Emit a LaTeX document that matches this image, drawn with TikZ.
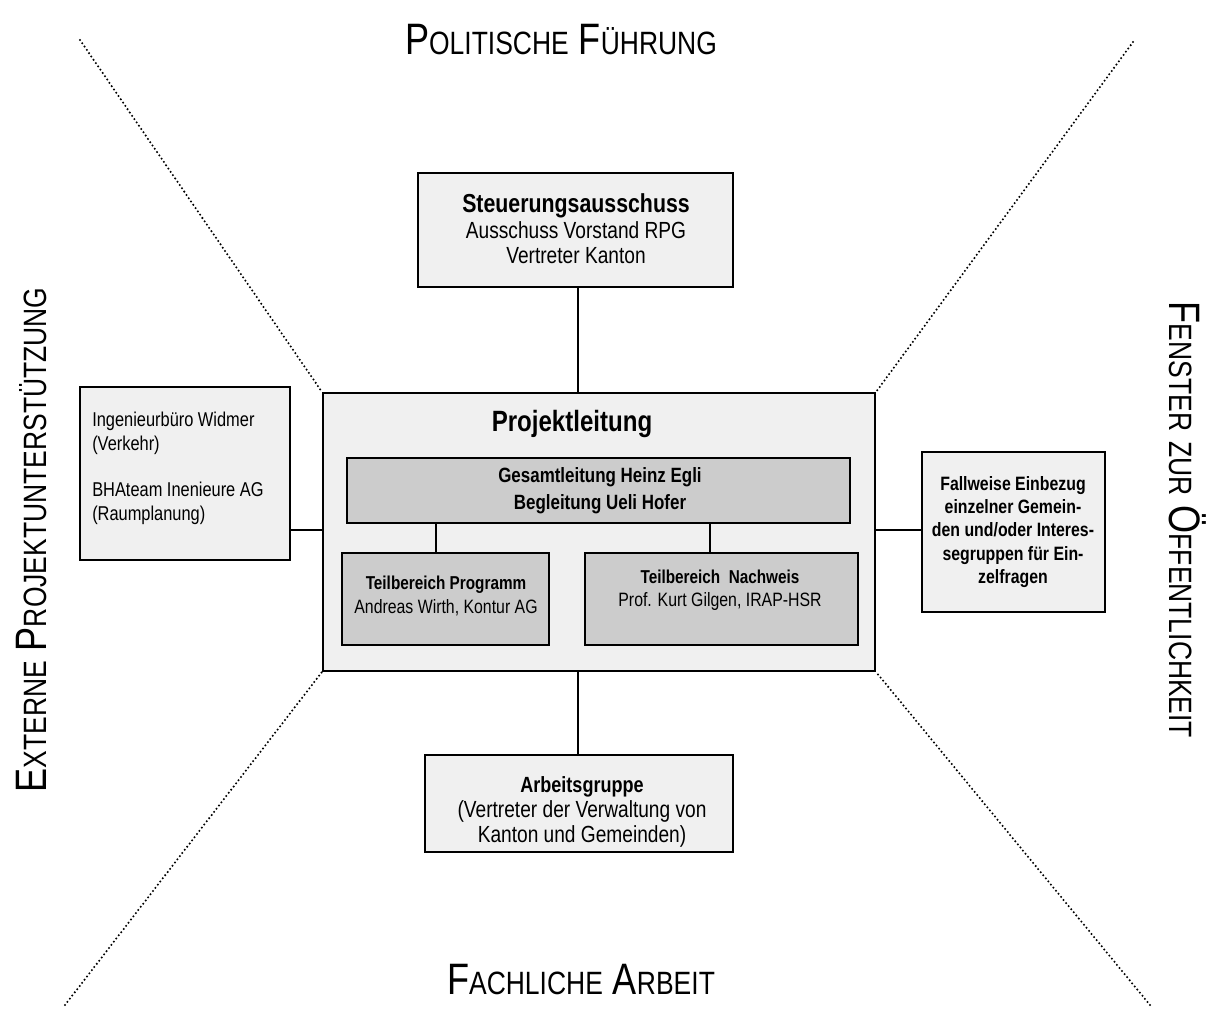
\documentclass[tikz,border=0pt]{standalone}
\usepackage{fontspec}
\setmainfont{Liberation Sans}[FakeStretch=0.82]
\usetikzlibrary{fit}
\newcommand\scbig[2]{{\fontsize{33}{33}\selectfont #1}{\fontsize{24.2}{24.2}\selectfont #2}}
\newcommand\scgap{\hspace{7.5pt}}
\tikzset{
  outerbox/.style={draw=black, line width=1.5pt, fill=gray!12, inner sep=0pt},
  innerbox/.style={draw=black, line width=1.5pt, fill=gray!40, inner sep=0pt},
  conn/.style={line width=1.5pt},
  sector/.style={line width=1.7pt, dash pattern=on 0pt off 3pt, line cap=round},
  txt/.style={align=center, inner sep=0pt},
}
\begin{document}
\begin{tikzpicture}[x=0.75pt,y=-0.75pt]
\useasboundingbox (0,0) rectangle (1217,1028);
\fill[white] (0,0) rectangle (1217,1028);

% sector lines
\node[outerbox, fit={(323,393) (875,671)}] (pl) {};
\coordinate (tl) at (80,40);
\coordinate (tr) at (1133,42);
\coordinate (bl) at (65,1005);
\coordinate (br) at (1150,1005);
\draw[sector] (tl) -- (pl.north west);
\draw[sector] (tr) -- (pl.north east);
\draw[sector] (bl) -- (pl.south west);
\draw[sector] (br) -- (pl.south east);

% Projektleitung content
\node[txt, font=\bfseries\fontsize{22}{24}\selectfont] (pltitle) at (572,424) {Projektleitung};
\node[innerbox, fit={(347,458) (850,523)}] (ges) {};
\node[txt, font=\bfseries\fontsize{15.5}{20.5}\selectfont] (gestxt) at (600,491) {Gesamtleitung Heinz Egli\\Begleitung Ueli Hofer};
\node[innerbox, fit={(342,553) (549,645)}] (tp) {};
\node[txt, font=\fontsize{14.5}{18}\selectfont] (tptxt) at (446,596) {{\bfseries\fontsize{14}{18}\selectfont Teilbereich Programm}\\{\fontsize{14.5}{18}\selectfont Andreas Wirth, Kontur AG}};
\node[innerbox, fit={(585,553) (858,645)}] (tn) {};
\node[txt, font=\fontsize{14.5}{17.5}\selectfont] (tntxt) at (720,590) {{\bfseries\fontsize{14}{17.5}\selectfont Teilbereich\ \ Nachweis}\\{\fontsize{14.5}{17.5}\selectfont Prof. Kurt Gilgen, IRAP-HSR}};
\draw[conn] (ges.south -| 436,0) -- (tp.north -| 436,0);
\draw[conn] (ges.south -| 710,0) -- (tn.north -| 710,0);

% Steuerungsausschuss
\node[outerbox, fit={(418,173) (733,287)}] (steu) {};
\node[txt, font=\fontsize{17.5}{19}\selectfont] (steutxt) at (576,229) {{\bfseries\fontsize{19.5}{22}\selectfont Steuerungsausschuss}\\Ausschuss Vorstand RPG\\Vertreter Kanton};
\draw[conn] (steu.south -| 578,0) -- (pl.north -| 578,0);

% Arbeitsgruppe
\node[outerbox, fit={(425,755) (733,852)}] (ag) {};
\node[txt, font=\fontsize{17.5}{19}\selectfont] (agtxt) at (582,812) {{\bfseries\fontsize{16.5}{19}\selectfont Arbeitsgruppe}\\(Vertreter der Verwaltung von\\Kanton und Gemeinden)};
\draw[conn] (pl.south -| 578,0) -- (ag.north -| 578,0);

% Externe
\node[outerbox, fit={(80,387) (290,560)}] (ext) {};
\node[txt, anchor=north west, align=left, font=\fontsize{15}{17.5}\selectfont] (exttxt) at (92,412) {Ingenieurbüro Widmer\\(Verkehr)\\[17.5pt]BHAteam Inenieure AG\\(Raumplanung)};
\coordinate (extc) at (0,530);
\draw[conn] (ext.east |- extc) -- (pl.west |- extc);

% Fallweise
\node[outerbox, fit={(922,452) (1105,612)}] (fall) {};
\node[txt, font=\bfseries\fontsize{14.5}{17.5}\selectfont] (falltxt) at (1013,532) {Fallweise Einbezug\\einzelner Gemein-\\den und/oder Interes-\\segruppen für Ein-\\zelfragen};
\coordinate (fallc) at (0,530);
\draw[conn] (pl.east |- fallc) -- (fall.west |- fallc);

% sector titles
\node[txt] (politik) at (561,40) {\scbig{P}{OLITISCHE}\scgap\scbig{F}{ÜHRUNG}};
\node[txt] (fach) at (581,980) {\scbig{F}{ACHLICHE}\scgap\scbig{A}{RBEIT}};
\node[txt, rotate=90] (extern) at (32,540) {\scbig{E}{XTERNE}\scgap\scbig{P}{ROJEKTUNTERSTÜTZUNG}};
\node[txt, rotate=-90] (fenster) at (1188,520) {\scbig{F}{ENSTER}\scgap{\fontsize{24.2}{24.2}\selectfont ZUR}\scgap\scbig{Ö}{FFENTLICHKEIT}};
\end{tikzpicture}
\end{document}
